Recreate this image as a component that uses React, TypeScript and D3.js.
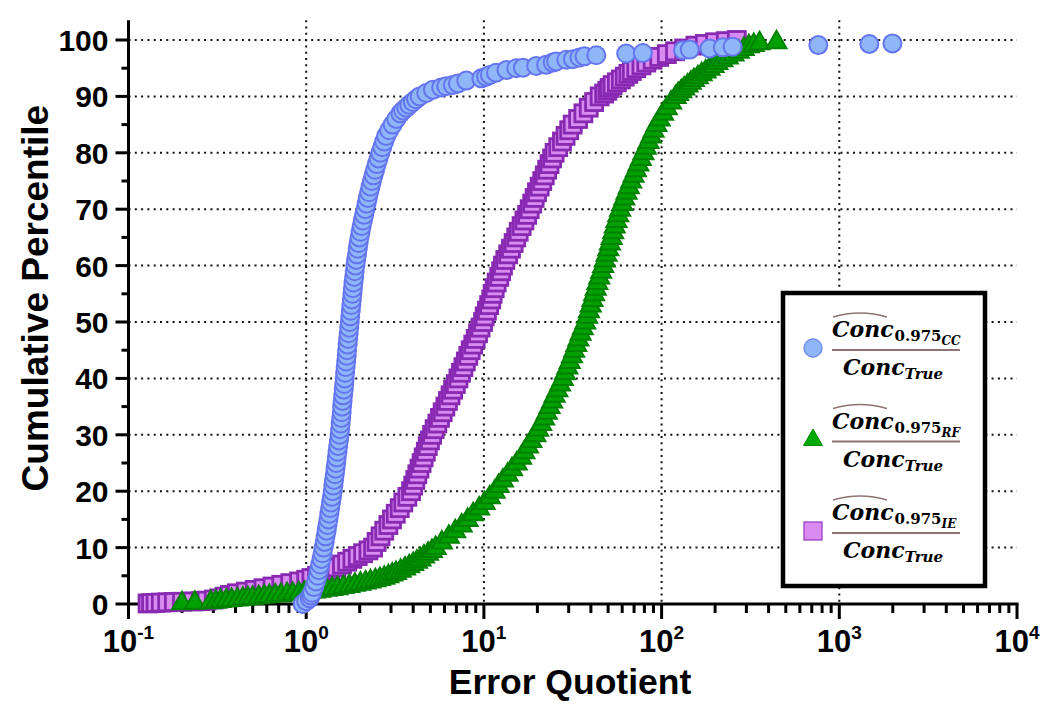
import React from "react";
import * as d3 from "d3";

// [error quotient, cumulative percentile]
const ccPoints: [number, number][] = [
  [0.955,0],[1.0,0.5],[1.047,1],[1.064,1.5],[1.079,2],[1.109,3],[1.135,4],[1.161,5],[1.18,6],[1.199,7],[1.219,8],[1.236,9],[1.253,10],[1.271,11],[1.285,12],[1.303,13],[1.318,14],[1.334,15],[1.349,16],[1.365,17],[1.38,18],[1.396,19],[1.409,20],[1.422,21],[1.435,22],[1.449,23],[1.462,24],[1.476,25],[1.486,26],[1.5,27],[1.514,28],[1.528,29],[1.542,30],[1.552,31],[1.563,32],[1.574,33],[1.585,34],[1.592,35],[1.603,36],[1.614,37],[1.626,38],[1.637,39],[1.646,40],[1.656,41],[1.667,42],[1.679,43],[1.69,44],[1.698,45],[1.71,46],[1.722,47],[1.734,48],[1.746,49],[1.758,50],[1.77,51],[1.782,52],[1.795,53],[1.807,54],[1.82,55],[1.832,56],[1.845,57],[1.862,58],[1.875,59],[1.892,60],[1.91,61],[1.932,62],[1.95,63],[1.972,64],[1.995,65],[2.023,66],[2.051,67],[2.084,68],[2.118,69],[2.153,70],[2.188,71],[2.223,72],[2.259,73],[2.301,74],[2.344,75],[2.393,76],[2.443,77],[2.495,78],[2.553,79],[2.612,80],[2.679,81],[2.748,82],[2.818,83],[2.931,84],[3.066,85],[3.214,86],[3.388,87],[3.508,87.5],[3.662,88],[3.8,88.5],[3.98,89],[4.15,89.5],[4.35,90],[4.74,90.6],[5.17,91.2],[5.75,91.6],[6.14,91.8],[6.69,92.0],[7.14,92.3],[7.96,92.8],[9.67,93.2],[10.3,93.5],[10.8,93.8],[11.7,94.2],[13.4,94.7],[15.2,95.0],[16.6,95.1],[19.7,95.4],[22.4,95.6],[24.4,96.0],[25.5,96.2],[29.1,96.5],[31.7,96.6],[34.5,96.9],[36.8,97.1],[42.9,97.3],[63.2,97.6],[78.4,97.7],[132,98.2],[144,98.3],[186,98.5],[221,98.7],[251,98.8],[762,99.1],[1476,99.3],[1990,99.4]
];

const rfPoints: [number, number][] = [
  [0.2,0.2],[0.236,0.3],[0.29,0.4],[0.31,0.5],[0.33,0.6],[0.355,0.7],[0.38,0.8],[0.41,0.9],[0.44,1.0],[0.47,1.1],[0.5,1.2],[0.54,1.3],[0.58,1.4],[0.62,1.5],[0.67,1.6],[0.72,1.7],[0.78,1.8],[0.84,1.9],[0.91,2.0],[0.98,2.1],[1.05,2.2],[1.12,2.3],[1.2,2.45],[1.3,2.6],[1.4,2.75],[1.5,2.9],[1.62,3.1],[1.75,3.3],[1.88,3.5],[2.02,3.7],[2.16,3.9],[2.3,4.1],[2.45,4.3],[2.6,4.5],[2.75,4.75],[2.9,5.0],[3.05,5.3],[3.2,5.6],[3.4,6.0],[3.6,6.4],[3.8,6.8],[4.0,7.2],[4.2,7.6],[4.4,8.0],[4.6,8.5],[4.85,9.0],[5.1,9.5],[5.35,10],[5.8,11],[6.35,12],[6.9,13],[7.5,14],[8.1,15],[8.7,16],[9.4,17],[10.1,18],[10.8,19],[11.5,20],[12.1,21],[12.8,22],[13.6,23],[14.4,24],[15.3,25],[16.2,26],[16.9,27],[17.7,28],[18.5,29],[19.5,30],[20.2,31],[21.0,32],[21.8,33],[22.6,34],[23.4,35],[24.2,36],[25.0,37],[25.9,38],[26.8,39],[27.8,40],[28.6,41],[29.5,42],[30.4,43],[31.3,44],[32.2,45],[33.1,46],[34.0,47],[35.0,48],[36.0,49],[37.2,50],[38.1,51],[39.0,52],[39.9,53],[40.8,54],[41.7,55],[42.6,56],[43.5,57],[44.6,58],[45.7,59],[46.9,60],[47.9,61],[49.0,62],[50.1,63],[51.2,64],[52.3,65],[53.4,66],[54.5,67],[55.7,68],[57.0,69],[58.4,70],[60.0,71],[61.7,72],[63.5,73],[65.4,74],[67.4,75],[69.5,76],[71.7,77],[74.0,78],[76.4,79],[79.0,80],[81.6,81],[84.4,82],[87.2,83],[90.1,84],[93.5,85],[97.5,86],[102,87],[107,88],[113,89],[120,90],[124,90.5],[129,91],[134,91.5],[140,92],[146,92.5],[152,93],[160,93.5],[168,94],[177,94.5],[186,95],[196,95.5],[206,96],[220,96.5],[236,97],[254,97.5],[272,98],[290,98.5],[310,99],[330,99.2],[356,99.5],[443,99.7]
];

const iePoints: [number, number][] = [
  [0.128,0.1],[0.134,0.15],[0.142,0.2],[0.152,0.25],[0.165,0.3],[0.18,0.35],[0.2,0.4],[0.23,0.45],[0.255,0.5],[0.275,0.6],[0.302,0.8],[0.324,1.0],[0.347,1.3],[0.372,1.6],[0.407,1.9],[0.457,2.2],[0.513,2.5],[0.575,2.8],[0.646,3.1],[0.724,3.4],[0.813,3.7],[0.912,4.0],[1.0,4.3],[1.07,4.6],[1.15,5.0],[1.26,5.5],[1.37,6.0],[1.48,6.5],[1.59,7.0],[1.7,7.5],[1.82,8.0],[1.95,8.5],[2.09,9.0],[2.24,9.5],[2.38,10],[2.49,11],[2.62,12],[2.75,13],[2.9,14],[3.04,15],[3.19,16],[3.36,17],[3.52,18],[3.71,19],[3.89,20],[4.0,21],[4.11,22],[4.22,23],[4.34,24],[4.46,25],[4.58,26],[4.71,27],[4.83,28],[4.97,29],[5.11,30],[5.28,31],[5.47,32],[5.66,33],[5.86,34],[6.07,35],[6.27,36],[6.49,37],[6.71,38],[6.95,39],[7.19,40],[7.43,41],[7.67,42],[7.91,43],[8.17,44],[8.43,45],[8.71,46],[8.99,47],[9.27,48],[9.57,49],[9.89,50],[10.1,51],[10.4,52],[10.7,53],[11.0,54],[11.2,55],[11.5,56],[11.8,57],[12.2,58],[12.5,59],[12.8,60],[13.2,61],[13.7,62],[14.2,63],[14.7,64],[15.2,65],[15.7,66],[16.3,67],[16.9,68],[17.5,69],[18.1,70],[18.7,71],[19.3,72],[19.9,73],[20.6,74],[21.3,75],[22.0,76],[22.7,77],[23.4,78],[24.2,79],[25.0,80],[26.2,81],[27.5,82],[28.8,83],[30.2,84],[31.6,85],[33.9,86],[36.3,87],[38.9,88],[41.7,89],[44.8,90],[47.5,90.5],[49.5,91],[51,91.5],[53,92],[56,92.5],[59,93],[62,93.5],[65,94],[68,94.5],[72,95],[77,95.5],[82,96],[89,96.5],[97,97],[107,97.5],[119,98],[134,98.5],[155,99],[175,99.3],[200,99.6],[230,99.8],[265,100]
];

const yTicks = [0, 10, 20, 30, 40, 50, 60, 70, 80, 90, 100];
const yMinorTicks = [5, 15, 25, 35, 45, 55, 65, 75, 85, 95];
const xExponents = [-1, 0, 1, 2, 3, 4];
const xGridValues = [1, 10, 100, 1000];
const legendSubs = ["CC", "RF", "IE"];

const W = 1050;
const H = 719;
const Y_MAX = 103.5;

const COL = {
  cFill: "#8EB6F8",
  cStroke: "#6475EE",
  tFill: "#00A000",
  tStroke: "#008200",
  sFill: "#D98BF1",
  sStroke: "#8829B2",
  brown: "#8E7373",
};

const triPath = "M0,-11L10,6.5L-10,6.5Z";

export default function App() {
  const x = d3.scaleLog().domain([0.1, 1e4]).range([128.5, 1017]);
  const y = d3.scaleLinear().domain([0, 100]).range([604, 40]);
  const x0 = x(0.1);
  const x1 = x(1e4);
  const yTop = y(Y_MAX);
  const yBot = y(0);

  const xMinor: number[] = [];
  for (let k = -1; k <= 3; k++) for (let m = 2; m <= 9; m++) xMinor.push(m * Math.pow(10, k));

  const axisFont = "'Liberation Sans', Arial, sans-serif";
  const mathFont = "'DejaVu Serif', serif";

  return (
    <svg width={W} height={H} style={{ position: "absolute", left: 0, top: 0, background: "#fff" }}>
      <rect x={0} y={0} width={W} height={H} fill="#fff" />
      {/* grid */}
      <g stroke="#111" strokeWidth={2} strokeDasharray="2,4.3">
        {yTicks.filter((t) => t > 0).map((t) => (
          <line key={"gy" + t} x1={x0} x2={x1} y1={y(t)} y2={y(t)} />
        ))}
        {xGridValues.map((v) => (
          <line key={"gx" + v} x1={x(v)} x2={x(v)} y1={yTop} y2={yBot} />
        ))}
      </g>
      {/* axes */}
      <g stroke="#000" strokeWidth={3}>
        <line x1={x0} x2={x0} y1={yTop} y2={yBot + 15} />
        <line x1={x0 - 1.5} x2={x1 + 1.5} y1={yBot} y2={yBot} />
        {yTicks.map((t) => (
          <line key={"ty" + t} x1={x0 - 13} x2={x0} y1={y(t)} y2={y(t)} />
        ))}
        {yMinorTicks.map((t) => (
          <line key={"tym" + t} x1={x0 - 7} x2={x0} y1={y(t)} y2={y(t)} />
        ))}
        {xExponents.map((e) => (
          <line key={"tx" + e} x1={x(Math.pow(10, e))} x2={x(Math.pow(10, e))} y1={yBot} y2={yBot + 15} />
        ))}
        {xMinor.map((v) => (
          <line key={"txm" + v} x1={x(v)} x2={x(v)} y1={yBot} y2={yBot + 9} />
        ))}
      </g>
      {/* tick labels */}
      <g fontFamily={axisFont} fontWeight="bold" fill="#000">
        {yTicks.map((t) => (
          <text key={"ly" + t} x={x0 - 20} y={y(t) + 11} fontSize={30} textAnchor="end">
            {t}
          </text>
        ))}
        {xExponents.map((e) => (
          <text key={"lx" + e} x={x(Math.pow(10, e))} y={652} fontSize={31} textAnchor="middle">
            10
            <tspan fontSize={19} dy={-13}>
              {e < 0 ? "-" + Math.abs(e) : String(e)}
            </tspan>
          </text>
        ))}
        <text x={570} y={694} fontSize={35.5} textAnchor="middle">
          Error Quotient
        </text>
        <text transform={`translate(48,${(yTop + yBot) / 2 - 14}) rotate(-90)`} fontSize={37} textAnchor="middle">
          Cumulative Percentile
        </text>
      </g>
      {/* series: IE squares */}
      <g fill={COL.sFill} stroke={COL.sStroke} strokeWidth={2.8}>
        {iePoints.map(([v, p], i) => (
          <rect key={"s" + i} x={x(v) - 8.5} y={y(p) - 8.5} width={17} height={17} />
        ))}
      </g>
      {/* series: RF triangles */}
      <g fill={COL.tFill} stroke={COL.tStroke} strokeWidth={2}>
        {rfPoints.map(([v, p], i) => (
          <path key={"t" + i} d={triPath} transform={`translate(${x(v)},${y(p)})`} />
        ))}
      </g>
      {/* series: CC circles */}
      <g fill={COL.cFill} stroke={COL.cStroke} strokeWidth={2}>
        {ccPoints.map(([v, p], i) => (
          <circle key={"c" + i} cx={x(v)} cy={y(p)} r={9} />
        ))}
      </g>
      {/* legend */}
      <rect x={783} y={293} width={202} height={293} fill="#fff" stroke="#000" strokeWidth={4.5} />
      {legendSubs.map((sub, i) => {
        const fy = 350 + i * 91.5;
        const mx = 813;
        const my = fy - 2;
        return (
          <g key={"lg" + sub}>
            {i === 0 && <circle cx={mx} cy={my} r={9} fill={COL.cFill} stroke="#6E86F0" strokeWidth={1.3} />}
            {i === 1 && <path d="M0,-10.5L9.5,6L-9.5,6Z" transform={`translate(${mx},${my})`} fill="#00AA00" stroke="#008A00" strokeWidth={1} />}
            {i === 2 && <rect x={mx - 9} y={my - 9} width={18} height={18} fill={COL.sFill} stroke="#9A3FC2" strokeWidth={1.3} />}
            <path d={`M833,${fy - 33} Q860,${fy - 41} 887,${fy - 33}`} fill="none" stroke={COL.brown} strokeWidth={1.6} />
            <text x={832} y={fy - 13} fontFamily={mathFont} fontWeight="bold" fontStyle="italic" fontSize={22} fill="#000">
              Conc
              <tspan fontStyle="normal" fontSize={15} dy={4} dx={1}>
                0.975
              </tspan>
              <tspan fontSize={12} dy={4}>
                {sub}
              </tspan>
            </text>
            <line x1={832} x2={960} y1={fy} y2={fy} stroke={COL.brown} strokeWidth={2} />
            <text x={843} y={fy + 25} fontFamily={mathFont} fontWeight="bold" fontStyle="italic" fontSize={22} fill="#000">
              Conc
              <tspan fontSize={15} dy={4}>
                True
              </tspan>
            </text>
          </g>
        );
      })}
    </svg>
  );
}
